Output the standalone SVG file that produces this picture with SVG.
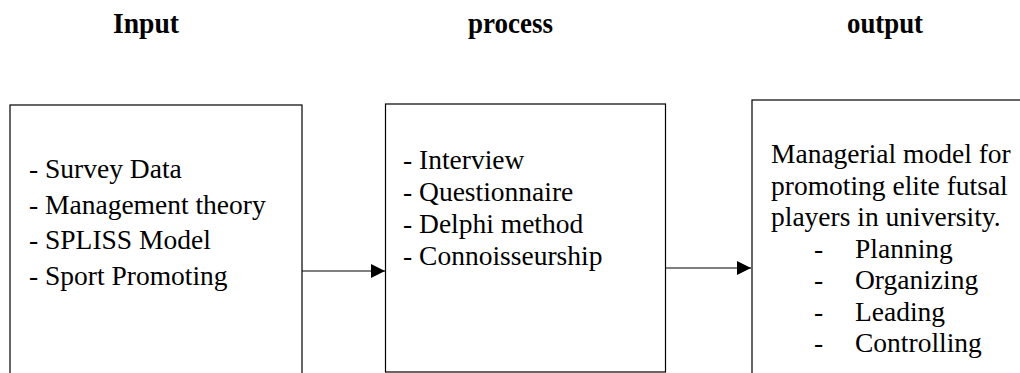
<svg xmlns="http://www.w3.org/2000/svg" width="1020" height="373" viewBox="0 0 1020 373">
<style>
.box{fill:#fff;stroke:#000;stroke-width:1.2}
.t{font-family:"Liberation Serif","Times New Roman",serif;font-size:27.5px;fill:#000}
.h{font-family:"Liberation Serif","Times New Roman",serif;font-size:29px;font-weight:bold;fill:#000}
.c{stroke:#000;stroke-width:1.2;fill:none}
</style>
<defs>
<marker id="ah" markerWidth="14" markerHeight="14" refX="14" refY="7" orient="auto" markerUnits="userSpaceOnUse">
<path d="M0,0 L14,7 L0,14 Z" fill="#000"/>
</marker>
</defs>
<rect width="1020" height="373" fill="#fff"/>
<g id="headers">
<text class="h" x="113" y="33" textLength="66" lengthAdjust="spacingAndGlyphs">Input</text>
<text class="h" x="468" y="33" textLength="85" lengthAdjust="spacingAndGlyphs">process</text>
<text class="h" x="847" y="33" textLength="76" lengthAdjust="spacingAndGlyphs">output</text>
</g>
<g id="input">
<rect class="box" x="10" y="105" width="292" height="290"/>
<text class="t" x="29" y="178">- Survey Data</text>
<text class="t" x="29" y="213.7">- Management theory</text>
<text class="t" x="29" y="249.4">- SPLISS Model</text>
<text class="t" x="29" y="285">- Sport Promoting</text>
</g>
<g id="process">
<rect class="box" x="385.5" y="104" width="280" height="268"/>
<text class="t" x="403" y="169">- Interview</text>
<text class="t" x="403" y="201">- Questionnaire</text>
<text class="t" x="403" y="233">- Delphi method</text>
<text class="t" x="403" y="265">- Connoisseurship</text>
</g>
<g id="output">
<rect class="box" x="752" y="100" width="290" height="300"/>
<text class="t" x="771" y="163">Managerial model for</text>
<text class="t" x="771" y="194.5">promoting elite futsal</text>
<text class="t" x="771" y="226">players in university.</text>
<text class="t" x="814" y="257.5">-</text><text class="t" x="855" y="257.5">Planning</text>
<text class="t" x="814" y="289">-</text><text class="t" x="855" y="289">Organizing</text>
<text class="t" x="814" y="320.5">-</text><text class="t" x="855" y="320.5">Leading</text>
<text class="t" x="814" y="352">-</text><text class="t" x="855" y="352">Controlling</text>
</g>
<g id="connectors">
<line class="c" x1="302" y1="271" x2="385" y2="271" marker-end="url(#ah)"/>
<line class="c" x1="665.5" y1="268" x2="751" y2="268" marker-end="url(#ah)"/>
</g>
</svg>
